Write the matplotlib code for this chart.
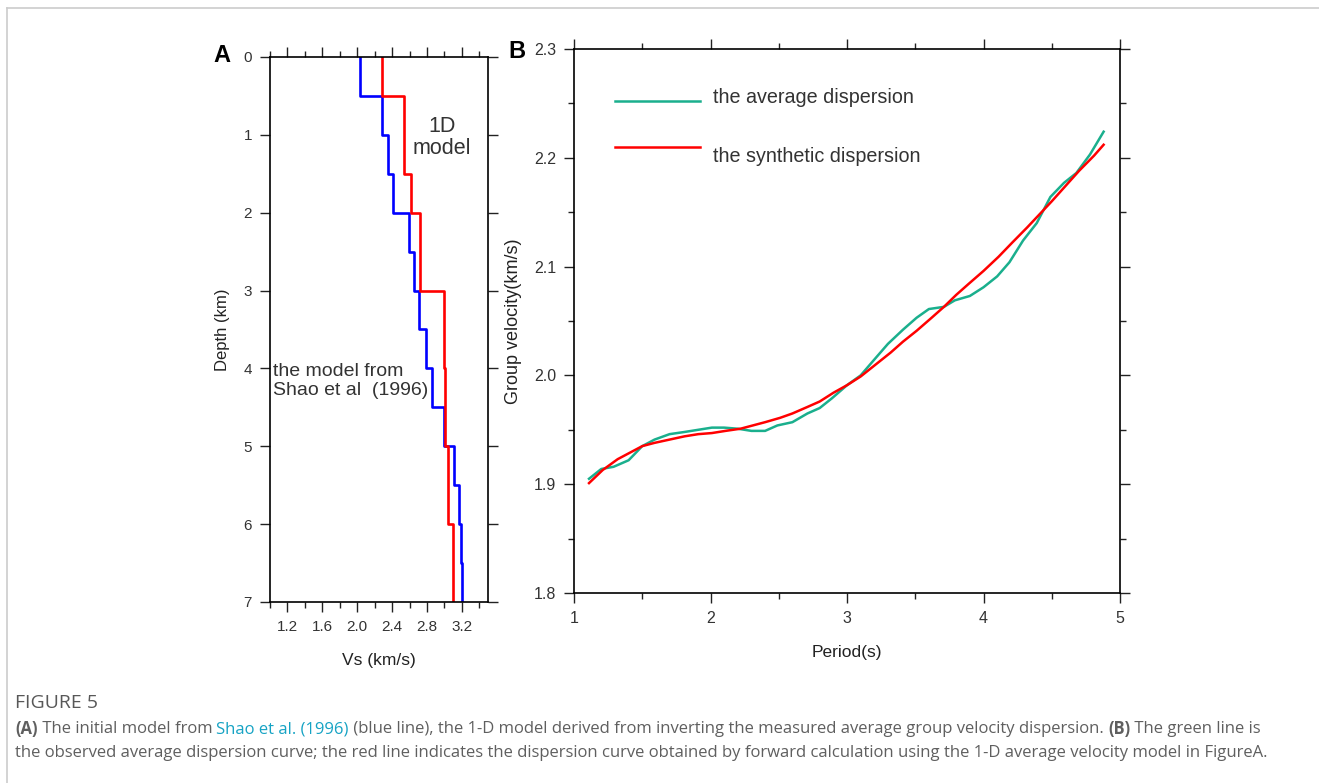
import matplotlib
matplotlib.use("Agg")
import matplotlib.pyplot as plt
from matplotlib.ticker import MultipleLocator
from matplotlib.lines import Line2D
from matplotlib import font_manager
import numpy as np

# panel A: layered Vs models (layer tops in km, Vs in km/s)
shao_tops = [0.0, 0.5, 1.0, 1.5, 2.0, 2.5, 3.0, 3.5, 4.0, 4.5, 5.0, 5.5, 6.0, 6.5]
shao_vs = [2.03, 2.29, 2.35, 2.41, 2.59, 2.65, 2.71, 2.79, 2.86, 2.99, 3.11, 3.17, 3.19, 3.20]
model_tops = [0.0, 0.5, 1.5, 2.0, 3.0, 4.0, 5.0, 6.0]
model_vs = [2.29, 2.54, 2.62, 2.72, 2.99, 3.01, 3.04, 3.10]
max_depth = 7.0

# panel B: group velocity dispersion
avg_period = [1.11, 1.20, 1.29, 1.40, 1.50, 1.59, 1.70, 1.81, 1.91, 2.01, 2.10, 2.20,
              2.30, 2.40, 2.49, 2.60, 2.71, 2.80, 2.89, 3.00, 3.10, 3.21, 3.30, 3.41,
              3.51, 3.60, 3.71, 3.79, 3.90, 4.00, 4.10, 4.19, 4.29, 4.39, 4.49, 4.59,
              4.68, 4.78, 4.88]
avg_vel = [1.905, 1.914, 1.916, 1.922, 1.935, 1.941, 1.946, 1.948, 1.950, 1.952, 1.952, 1.951,
           1.949, 1.949, 1.954, 1.957, 1.965, 1.970, 1.979, 1.991, 2.000, 2.016, 2.029, 2.042,
           2.053, 2.061, 2.063, 2.069, 2.073, 2.081, 2.091, 2.104, 2.124, 2.140, 2.164, 2.177,
           2.186, 2.203, 2.224]
syn_period = [1.11, 1.21, 1.32, 1.41, 1.50, 1.59, 1.70, 1.81, 1.91, 2.01, 2.11, 2.22,
              2.31, 2.40, 2.51, 2.60, 2.71, 2.80, 2.90, 3.00, 3.10, 3.21, 3.32, 3.41,
              3.51, 3.62, 3.71, 3.80, 3.89, 4.00, 4.11, 4.21, 4.32, 4.41, 4.50, 4.60,
              4.70, 4.81, 4.88]
syn_vel = [1.901, 1.913, 1.923, 1.929, 1.935, 1.938, 1.941, 1.944, 1.946, 1.947, 1.949, 1.951,
           1.954, 1.957, 1.961, 1.965, 1.971, 1.976, 1.984, 1.991, 1.999, 2.010, 2.021, 2.031,
           2.041, 2.053, 2.063, 2.074, 2.084, 2.096, 2.109, 2.122, 2.136, 2.148, 2.160, 2.174,
           2.188, 2.202, 2.212]


def layers(tops, vs, bottom):
    # turn layer tops + velocities into a vertical step line
    edges = list(tops) + [bottom]
    x, y = [], []
    for i, v in enumerate(vs):
        x += [v, v]
        y += [edges[i], edges[i + 1]]
    return x, y


plt.rcParams['font.family'] = ['Liberation Sans', 'DejaVu Sans']
installed = {f.name for f in font_manager.fontManager.ttflist}
narrow = 'Liberation Sans Narrow' if 'Liberation Sans Narrow' in installed else 'Liberation Sans'

fig = plt.figure(figsize=(13.19, 7.83), dpi=100)

# light page border
fig.add_artist(Line2D([0.005, 1.0], [1 - 7.5 / 783] * 2, color="#cccccc", lw=1.2))
fig.add_artist(Line2D([6.5 / 1319] * 2, [0.0, 1 - 7.5 / 783], color="#cccccc", lw=1.2))

# ---- panel A
axA = fig.add_axes([270 / 1319, 1 - 602 / 783, 218 / 1319, 545 / 783])
x, y = layers(shao_tops, shao_vs, max_depth)
axA.plot(x, y, color="#0000ff", lw=1.9)
x, y = layers(model_tops, model_vs, max_depth)
axA.plot(x, y, color="#ff0000", lw=1.9)
axA.set_xlim(1.0, 3.5)
axA.set_ylim(7, 0)
axA.set_xticks(np.arange(1.2, 3.3, 0.4))
axA.set_xticklabels(["%.1f" % v for v in np.arange(1.2, 3.3, 0.4)])
axA.xaxis.set_minor_locator(MultipleLocator(0.2))
axA.yaxis.set_major_locator(MultipleLocator(1))
axA.tick_params(which="both", direction="out", top=True, right=True, width=1.0,
                labelsize=11, colors="#222222", labelcolor="#333333")
axA.tick_params(which="major", length=7, pad=6)
axA.tick_params(which="minor", length=4)
axA.tick_params(axis="y", pad=6)
for s in axA.spines.values():
    s.set_linewidth(1.2)
axA.set_ylabel("Depth (km)", fontsize=12, color="#222222", labelpad=10)
axA.set_xlabel("Vs (km/s)", fontsize=12.5, color="#222222", labelpad=14)
axA.text(0.79, 0.873, "1D", transform=axA.transAxes, ha="center", va="center",
         fontsize=15.5, color="#333333")
axA.text(0.79, 0.833, "model", transform=axA.transAxes, ha="center", va="center",
         fontsize=15.5, color="#333333")
axA.text(0.013, 0.4225, "the model from", transform=axA.transAxes,
         ha="left", va="center", fontsize=14, color="#333333")
axA.text(0.013, 0.3875, "Shao et al  (1996)", transform=axA.transAxes,
         ha="left", va="center", fontsize=14, color="#333333")
fig.text(222 / 1319, 1 - 55 / 783, "A", fontsize=17, fontweight="bold", ha="center", va="center")

# ---- panel B
axB = fig.add_axes([574 / 1319, 1 - 593 / 783, 546 / 1319, 544 / 783])
axB.plot(avg_period, avg_vel, color="#1aaf8d", lw=1.8)
axB.plot(syn_period, syn_vel, color="#ff0000", lw=1.8)
axB.set_xlim(1, 5)
axB.set_ylim(1.8, 2.3)
axB.xaxis.set_major_locator(MultipleLocator(1))
axB.xaxis.set_minor_locator(MultipleLocator(0.5))
axB.yaxis.set_minor_locator(MultipleLocator(0.05))
axB.set_yticks(np.arange(1.8, 2.31, 0.1))
axB.set_yticklabels(["%.1f" % v for v in np.arange(1.8, 2.31, 0.1)])
axB.tick_params(which="both", direction="out", top=True, right=True, width=1.0,
                labelsize=11.5, colors="#222222", labelcolor="#333333")
axB.tick_params(which="major", length=7, pad=6)
axB.tick_params(which="minor", length=4)
for lab in axB.get_xticklabels() + axB.get_yticklabels():
    lab.set_family(narrow)
for s in axB.spines.values():
    s.set_linewidth(1.2)
axB.set_ylabel("Group velocity(km/s)", fontsize=13, color="#222222", labelpad=8)
axB.set_xlabel("Period(s)", fontsize=12.5, color="#222222", labelpad=14)
# legend drawn in axes fraction
axB.plot([0.075, 0.231], [0.904, 0.904], color="#1aaf8d", lw=1.8, transform=axB.transAxes)
axB.plot([0.075, 0.231], [0.82, 0.82], color="#ff0000", lw=1.8, transform=axB.transAxes)
axB.text(0.255, 0.91, "the average dispersion", transform=axB.transAxes, fontsize=14.2,
         color="#333333", va="center")
axB.text(0.255, 0.803, "the synthetic dispersion", transform=axB.transAxes, fontsize=14.2,
         color="#333333", va="center")
fig.text(517 / 1319, 1 - 52 / 783, "B", fontsize=17, fontweight="bold", ha="center", va="center")

# ---- caption
cap_font = ['Open Sans', 'DejaVu Sans']
gray = "#5f5f5f"
fig.text(15 / 1319, 1 - 703 / 783, "FIGURE 5", fontsize=14, color="#585858",
         family=cap_font, va="center")

line1 = [("(A)", "bold", gray),
         (" The initial model from ", "normal", gray),
         ("Shao et al. (1996)", "normal", "#16a3c4"),
         (" (blue line), the 1-D model derived from inverting the measured average group"
          " velocity dispersion. ", "normal", gray),
         ("(B)", "bold", gray),
         (" The green line is", "normal", gray)]
line2 = [("the observed average dispersion curve; the red line indicates the dispersion curve"
          " obtained by forward calculation using the 1-D average velocity model in FigureA.",
          "normal", gray)]

renderer = fig.canvas.get_renderer()


def draw_line(parts, y_px, size):
    x_px = 15.0
    for txt, weight, col in parts:
        t = fig.text(x_px / 1319, 1 - y_px / 783, txt, fontsize=size, fontweight=weight,
                     color=col, family=cap_font, va="center")
        bb = t.get_window_extent(renderer)
        x_px += bb.width
    return x_px


# pick font size so the second line spans about as wide as in the figure
probe = fig.text(0, 0, line2[0][0], fontsize=10, family=cap_font)
w = probe.get_window_extent(renderer).width
probe.remove()
cap_size = 10 * 1258 / w

draw_line(line1, 729, cap_size)
draw_line(line2, 753, cap_size)

fig.savefig("out.png", dpi=100, facecolor="white")
